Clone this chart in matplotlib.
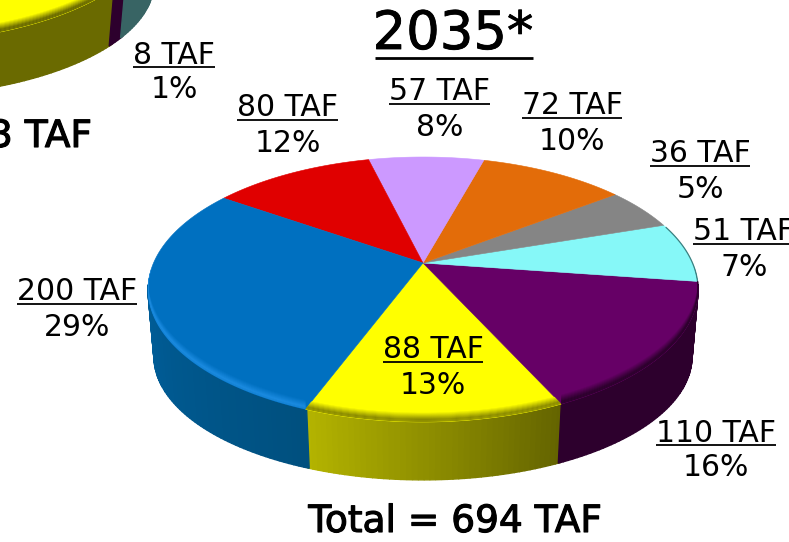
import numpy as np
import matplotlib
matplotlib.use("Agg")
import matplotlib.pyplot as plt
import matplotlib.patheffects as pe
from matplotlib.patches import Polygon

# 2035 pie, counter clockwise from the yellow slice
values = [88, 110, 51, 36, 72, 57, 80, 200]
tops = ['#FFFF00', '#660066', '#86F8F8', '#858585', '#E36C09', '#CC99FF', '#E00000', '#0070C0']
wall_left = ['#B4B400', '#2D002D', '#3C8080', '#505050', '#8A4000', '#7A5C99', '#860000', '#0069AF']
wall_right = ['#646400', '#2D002D', '#3C8080', '#505050', '#8A4000', '#7A5C99', '#860000', '#00507F']
rims = ['#8A8A00', '#2D002D', '#3C8080', '#505050', '#8A4000', '#7A5C99', '#860000', '#1C8CE2']
amount_labels = ['88 TAF', '110 TAF', '51 TAF', '36 TAF', '72 TAF', '57 TAF', '80 TAF', '200 TAF']
pct_labels = ['13%', '16%', '7%', '5%', '10%', '8%', '12%', '29%']
label_x = [433, 716, 744, 700, 572, 440, 288, 77]
label_y = [348, 431, 230, 152, 104, 90, 106, 290]

# neighbouring pie, cut off by the slide edge (only the 8 TAF slice is labelled)
left_values = [300, 8, 375]
left_tops = ['#FFFF00', '#660066', '#5F9EA0']
left_wall_left = ['#6A6A00', '#2D002D', '#386464']
left_wall_right = ['#6A6A00', '#2D002D', '#386464']
left_rims = ['#6A6A00', '#2D002D', '#386464']


def project(t, geo, r=1.0):
    cx, cy, rx, ry, c = geo
    u, v = r * np.cos(t), r * np.sin(t)
    w = 1 + c * v
    return cx + rx * u / w, cy - ry * v / w


def blend(a, b, f):
    a, b = np.array(matplotlib.colors.to_rgb(a)), np.array(matplotlib.colors.to_rgb(b))
    return tuple(a + (b - a) * f)


def draw_pie(ax, vals, start, geo, dy, faces, w_left, w_right, rim_cols, band=9):
    cx, cy = geo[0], geo[1]
    sx, sy = 0.978, 0.93
    edges = start + np.cumsum([0] + list(vals)) / sum(vals) * 360
    # walls first
    for i in range(len(vals)):
        ts = np.radians(np.arange(edges[i], edges[i + 1] + 1, 1.0))
        for j in range(len(ts) - 1):
            if np.sin(ts[j]) > -0.15:
                continue
            x, y = project(ts[j:j + 2], geo)
            xb = cx + (x - cx) * sx
            yb = cy + (y - cy) * sy + dy
            col = blend(w_left[i], w_right[i], j / max(len(ts) - 2, 1))
            ax.fill(np.r_[x, xb[::-1]], np.r_[y, yb[::-1]], color=col, lw=1.0, zorder=2)
    # top face
    for i in range(len(vals)):
        ts = np.radians(np.linspace(edges[i], edges[i + 1], 90))
        x, y = project(ts, geo)
        ax.fill(np.r_[cx, x], np.r_[cy, y], color=faces[i], lw=0.4, zorder=3)
        # thin dark edge where the wall just shows on the right
        keep = (np.sin(ts) >= -0.15) & (np.sin(ts) < 0.3) & (np.cos(ts) > 0)
        if keep.any():
            ax.plot(x[keep], y[keep], color=w_left[i], lw=0.9, zorder=4)
    # soft bevel along the front rim, kept inside each slice
    for i in range(len(vals)):
        all_ts = np.radians(np.linspace(edges[i], edges[i + 1], 90))
        ts = all_ts[np.sin(all_ts) < -0.05]
        if len(ts) < 2:
            continue
        x, y = project(ts, geo)
        xa, ya = project(all_ts, geo)
        clip = Polygon(np.c_[np.r_[cx, xa], np.r_[cy, ya]], transform=ax.transData)
        for h in range(band, 0, -1):
            f = (band - h + 1) / (band - 2)
            if f <= 1:
                col = blend(faces[i], rim_cols[i], f)
            else:
                col = blend(rim_cols[i], w_left[i], min(f - 1, 1) * 2 / 3)
            patches = ax.fill(np.r_[x, x[::-1]], np.r_[y - h, y[::-1] - h + 1], color=col, lw=0.3, zorder=4)
            patches[0].set_clip_path(clip)


def label(ax, x, y, top, bottom, size=21.5):
    t = ax.text(x, y + 2, top, ha='center', va='center', fontsize=size, color='black', zorder=6)
    box = t.get_window_extent(renderer=fig.canvas.get_renderer())
    ax.plot([box.x0, box.x1], [y + 14, y + 14], color='black', lw=1.3, zorder=6, solid_capstyle='butt')
    ax.text(x, y + 37, bottom, ha='center', va='center', fontsize=size, color='black', zorder=6)


fig = plt.figure(figsize=(7.89, 5.42), dpi=100)
ax = fig.add_axes([0, 0, 1, 1])
ax.set_xlim(0, 789)
ax.set_ylim(542, 0)
ax.axis('off')

# cx, cy, rx, ry, perspective
draw_pie(ax, left_values, 317.5 - left_values[0] / sum(left_values) * 360,
         (-110, -103, 265, 118, 0.19), 64, left_tops, left_wall_left, left_wall_right, left_rims)
draw_pie(ax, values, 249.2, (423, 263, 269.5, 127.2, 0.2), 69, tops, wall_left, wall_right, rims)

for x, y, a, p in zip(label_x, label_y, amount_labels, pct_labels):
    label(ax, x, y, a, p)
label(ax, 174, 53, '8 TAF', '1%')

bold = [pe.withStroke(linewidth=0.8, foreground='black')]
ax.text(453, 34, '2035*', ha='center', va='center', fontsize=38, color='black',
        path_effects=[pe.withStroke(linewidth=0.6, foreground='black')], zorder=6)
ax.plot([375, 533], [58, 58], color='black', lw=2, zorder=6, solid_capstyle='butt')
ax.text(455, 522, 'Total = 694 TAF', ha='center', va='center', fontsize=27, color='black',
        path_effects=bold, zorder=6)
ax.text(-11, 137, '3 TAF', ha='left', va='center', fontsize=27, color='black',
        path_effects=bold, zorder=6)

fig.savefig('out.png', dpi=100)
